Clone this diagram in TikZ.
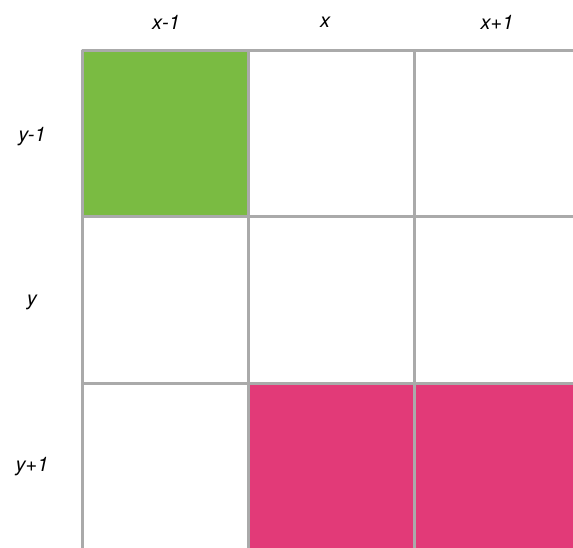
\documentclass[tikz,border=0pt]{standalone}
\usepackage{fontspec}
\setmainfont{TeX Gyre Heros}
\usepackage{tikz}
\usetikzlibrary{positioning}
\definecolor{gridgrey}{HTML}{AAAAAA}
\definecolor{leafgreen}{HTML}{7ABB42}
\definecolor{hotpink}{HTML}{E23A78}
\tikzset{
    every picture/.style={line cap=round,line join=round},
    gridcell/.style={draw=gridgrey,fill=white,line width=3pt,
      minimum size=166pt,inner sep=0pt,outer sep=0pt},
    seen/.style={fill=leafgreen},
    blocked/.style={fill=hotpink},
    axislabel/.style={font=\fontsize{20}{24}\selectfont\itshape,inner sep=0pt}
}
\begin{document}
\begin{tikzpicture}[x=1pt,y=-1pt]
  \useasboundingbox (0,0) rectangle (573,548);
  \clip (0,0) rectangle (573,548);
  % cells, row by row
  \node[gridcell,seen] (c11) at (165,134){};
  \node[gridcell] (c12) at (331,134){};
  \node[gridcell] (c13) at (497,134){};
  \node[gridcell] (c21) at (165,300){};
  \node[gridcell] (c22) at (331,300){};
  \node[gridcell] (c23) at (497,300){};
  \node[gridcell] (c31) at (165,466){};
  \node[gridcell,blocked] (c32) at (331,466){};
  \node[gridcell,blocked] (c33) at (497,466){};
  % column and row labels
  \node[axislabel] (xm) at (166,22){x-1};
  \node[axislabel] (x0) at (325,22){x};
  \node[axislabel] (xp) at (497,22){x+1};
  \node[axislabel] (ym) at (32,137){y-1};
  \node[axislabel] (y0) at (32,302){y};
  \node[axislabel] (yp) at (32,467){y+1};
\end{tikzpicture}
\end{document}
